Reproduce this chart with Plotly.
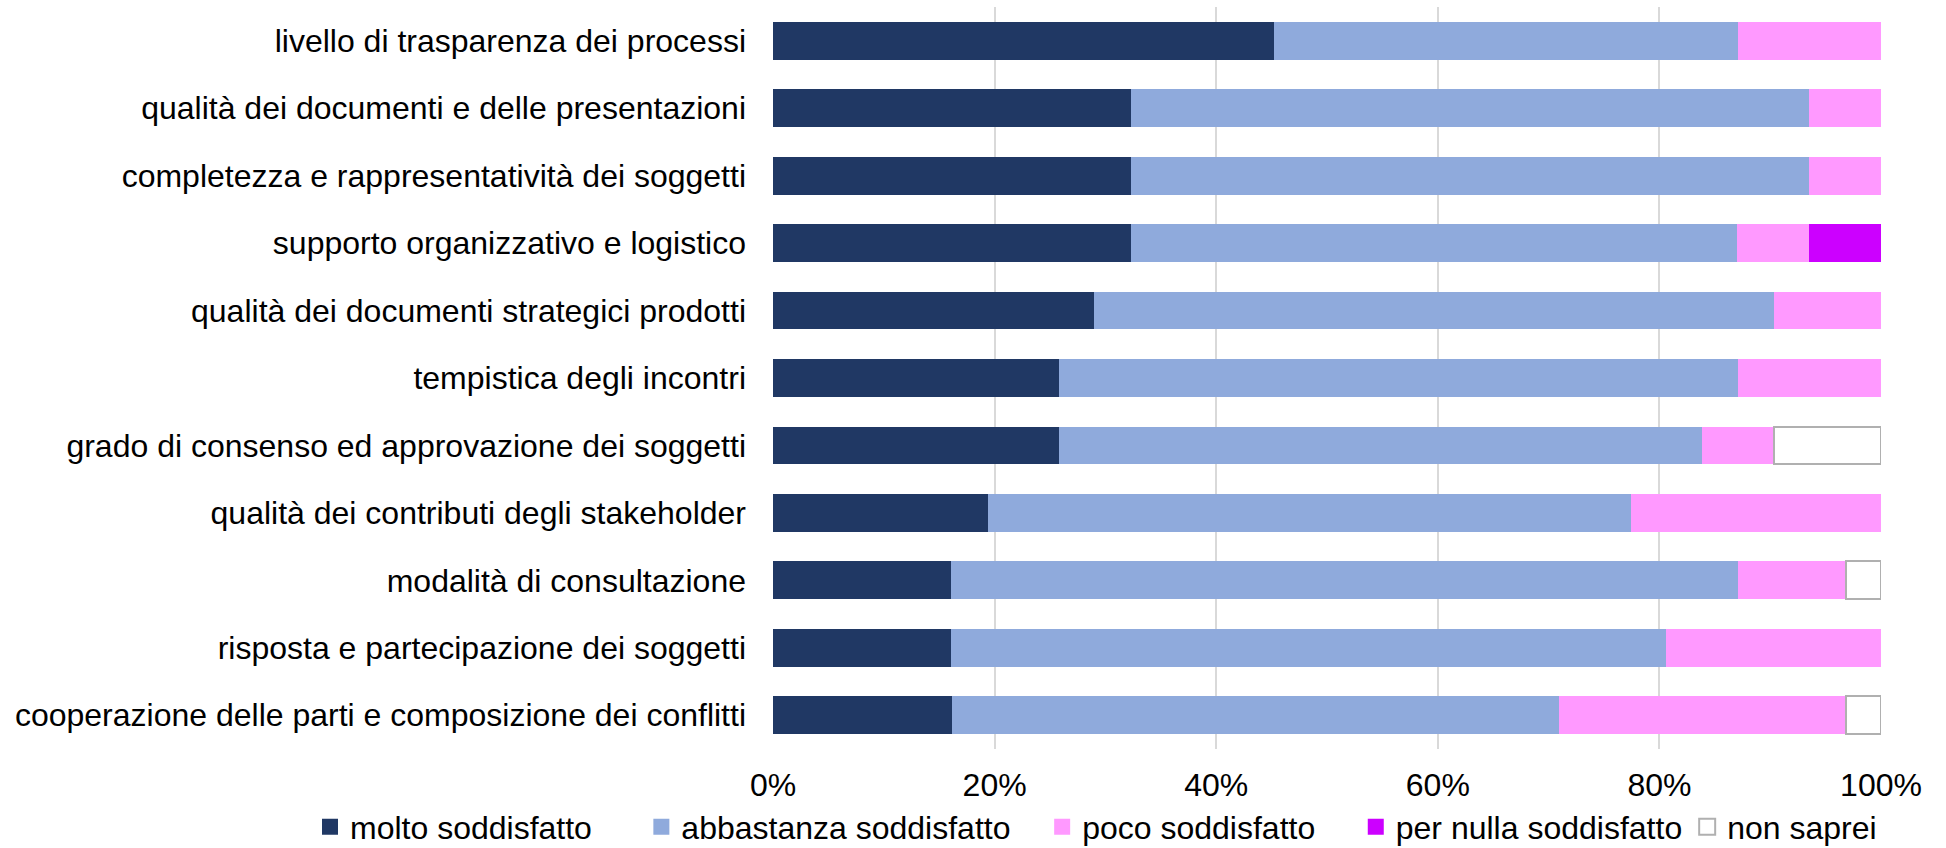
import plotly.graph_objects as go

categories = [
    "livello di trasparenza dei processi",
    "qualità dei documenti e delle presentazioni",
    "completezza e rappresentatività dei soggetti",
    "supporto organizzativo e logistico",
    "qualità dei documenti strategici prodotti",
    "tempistica degli incontri",
    "grado di consenso ed approvazione dei soggetti",
    "qualità dei contributi degli stakeholder",
    "modalità di consultazione",
    "risposta e partecipazione dei soggetti",
    "cooperazione delle parti e composizione dei conflitti",
]

molto_soddisfatto = [45.2, 32.3, 32.3, 32.3, 29.0, 25.8, 25.8, 19.4, 16.1, 16.1, 16.1]
abbastanza_soddisfatto = [41.9, 61.3, 61.3, 54.8, 61.3, 61.3, 58.1, 58.1, 71.0, 64.5, 54.8]
poco_soddisfatto = [12.9, 6.5, 6.5, 6.5, 9.7, 12.9, 6.5, 22.6, 9.7, 19.4, 25.8]
per_nulla_soddisfatto = [0, 0, 0, 6.5, 0, 0, 0, 0, 0, 0, 0]
non_saprei = [0, 0, 0, 0, 0, 0, 9.7, 0, 3.2, 0, 3.2]

x_ticks = [0, 20, 40, 60, 80, 100]
x_ticklabels = ["0%", "20%", "40%", "60%", "80%", "100%"]

series = [
    ("molto soddisfatto", molto_soddisfatto, "#203864", "#203864", 0),
    ("abbastanza soddisfatto", abbastanza_soddisfatto, "#8faadc", "#8faadc", 0),
    ("poco soddisfatto", poco_soddisfatto, "#ff99ff", "#ff99ff", 0),
    ("per nulla soddisfatto", per_nulla_soddisfatto, "#cc00ff", "#cc00ff", 0),
    ("non saprei", non_saprei, "#ffffff", "#b0b0b0", 2),
]

FONT = "Liberation Sans, Arial, sans-serif"
# non-breaking spaces after each legend entry, to space the entries
legend_pad = [5, 3, 4, 0, 0]

fig = go.Figure()
for name, vals, fill, line, lw in series:
    fig.add_trace(go.Bar(
        name=name,
        y=categories,
        x=[v if v else None for v in vals],
        orientation="h",
        marker=dict(color=fill, line=dict(color=line, width=lw)),
        showlegend=False,
        hoverinfo="x+y+name",
    ))

for (name, vals, fill, line, lw), pad in zip(series, legend_pad):
    fig.add_trace(go.Scatter(
        name=name + "\u00a0" * pad,
        x=[None], y=[None],
        mode="markers",
        marker=dict(symbol="square", size=16, color=fill,
                    line=dict(color=line, width=lw)),
        showlegend=True,
    ))

fig.update_layout(
    width=1946, height=848,
    barmode="stack",
    barnorm="percent",
    bargap=0.44,
    paper_bgcolor="white",
    plot_bgcolor="white",
    margin=dict(l=773, r=65, t=7, b=99, autoexpand=False),
    font=dict(family=FONT, size=32, color="#000000"),
    legend=dict(
        orientation="h",
        xref="paper", yref="paper",
        x=(310 - 773) / 1108, xanchor="left",
        y=-0.105, yanchor="middle",
        font=dict(size=32),
        traceorder="normal",
        borderwidth=0,
        bgcolor="rgba(0,0,0,0)",
    ),
    xaxis=dict(
        range=[0, 100],
        tickvals=x_ticks,
        ticktext=x_ticklabels,
        showgrid=True,
        gridcolor="#d9d9d9",
        gridwidth=1.5,
        zeroline=False,
        showline=False,
        ticks="",
        ticklabelstandoff=14,
        tickfont=dict(size=32),
        fixedrange=True,
    ),
    yaxis=dict(
        categoryorder="array",
        categoryarray=categories,
        autorange="reversed",
        showgrid=False,
        zeroline=False,
        showline=False,
        ticks="",
        ticklabelstandoff=26,
        tickfont=dict(size=32),
    ),
)

fig.write_html(
    "out.html",
    config={"displayModeBar": False},
    post_script="document.body.style.margin='0';",
)
